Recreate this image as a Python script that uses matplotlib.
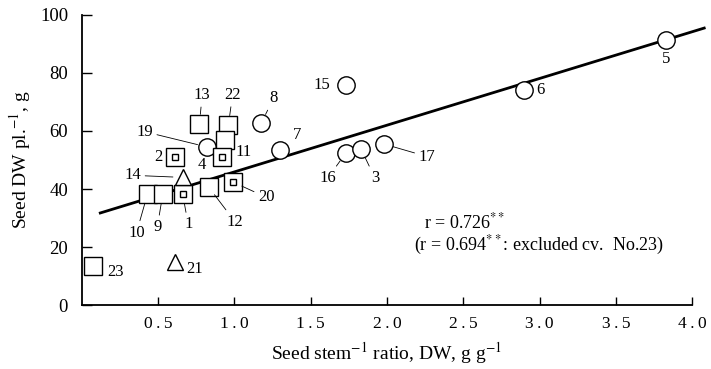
import matplotlib
matplotlib.use("Agg")
import matplotlib.pyplot as plt

plt.rcParams['font.family'] = ['Liberation Serif', 'DejaVu Serif']
plt.rcParams['mathtext.fontset'] = 'stix'

# cultivar data: seed/stem ratio (x) and seed DW per plant (y)
circle_cv = ['5', '6', '15', '7', '16', '3', '17', '8', '19']
circle_x = [3.83, 2.90, 1.73, 1.30, 1.73, 1.83, 1.98, 1.175, 0.82]
circle_y = [91.4, 74.1, 75.9, 53.4, 52.4, 53.8, 55.5, 62.7, 54.5]

square_cv = ['13', '22', '11', '10', '9', '12', '23']
square_x = [0.77, 0.96, 0.94, 0.43, 0.53, 0.83, 0.075]
square_y = [62.4, 62.0, 56.9, 38.3, 38.3, 40.7, 13.4]

boxed_cv = ['4', '2', '1', '20']
boxed_x = [0.915, 0.61, 0.66, 0.99]
boxed_y = [51.0, 51.0, 38.3, 42.4]

tri_cv = ['14', '21']
tri_x = [0.66, 0.61]
tri_y = [44.0, 14.8]

# regression line
intercept = 29.8
slope = 16.1
line_x = [0.12, 4.08]

xticks = [0.5, 1.0, 1.5, 2.0, 2.5, 3.0, 3.5, 4.0]
yticks = [0, 20, 40, 60, 80, 100]

# label offsets in points (dx, dy) and whether a leader line is drawn
label_pos = {
    '5': (0, -14, False), '6': (12, 0, False), '15': (-17, 0, False),
    '7': (12, 11, False), '8': (9, 18, True), '19': (-45, 11, True),
    '16': (-13, -18, True), '3': (10, -21, True), '17': (31, -9, True),
    '13': (2, 21, True), '22': (3, 22, True), '11': (13, -9, False),
    '4': (-14, -6, False), '2': (-12, 0, False), '14': (-36, 1.5, True),
    '1': (4, -22, True), '10': (-8, -28, True), '9': (-4, -24, True),
    '12': (19, -25, True), '20': (24, -11, True), '23': (16, -4, False),
    '21': (14, -5, False),
}

fig = plt.figure(figsize=(7.11, 3.69), dpi=100)
ax = fig.add_axes([0.1153, 0.1734, 0.858, 0.786])

lx = line_x
ly = [intercept + slope * v for v in lx]
ax.plot(lx, ly, color='black', lw=2.0, zorder=2, clip_on=False)

mk = dict(linestyle='none', markerfacecolor='white', markeredgecolor='black',
          markeredgewidth=1.0, zorder=3, clip_on=False)
ax.plot(circle_x, circle_y, marker='o', markersize=12.5, **mk)
ax.plot(square_x, square_y, marker='s', markersize=13, **mk)
ax.plot(boxed_x, boxed_y, marker='s', markersize=13, **mk)
ax.plot(boxed_x, boxed_y, marker='s', markersize=5, **mk)
ax.plot(tri_x, tri_y, marker='^', markersize=11, **mk)

for cvs, xs, ys in [(circle_cv, circle_x, circle_y), (square_cv, square_x, square_y),
                    (boxed_cv, boxed_x, boxed_y), (tri_cv, tri_x, tri_y)]:
    for cv, xv, yv in zip(cvs, xs, ys):
        dx, dy, leader = label_pos[cv]
        props = None
        if leader:
            props = dict(arrowstyle='-', lw=0.6, color='black',
                         shrinkA=1, shrinkB=7)
        ax.annotate(cv, (xv, yv), xytext=(dx, dy), textcoords='offset points',
                    ha='center', va='center', fontsize=12, arrowprops=props,
                    zorder=4)

ax.text(2.24, 28.6, 'r = 0.726$^{**}$', fontsize=13, ha='left', va='center')
ax.text(2.18, 20.6, '(r = 0.694$^{**}$: excluded cv.  No.23)', fontsize=13,
        ha='left', va='center')

ax.set_xlim(0, 4.0)
ax.set_ylim(0, 100)
ax.set_xticks(xticks)
ax.set_xticklabels(['\u2009'.join(f'{t:.1f}') for t in xticks], fontsize=12.5)
ax.set_yticks(yticks)
ax.set_yticklabels([str(t) for t in yticks], fontsize=13.5)
ax.tick_params(axis='x', direction='in', length=6, width=1, pad=8)
ax.tick_params(axis='y', direction='in', length=7, width=1, pad=10)
ax.spines['top'].set_visible(False)
ax.spines['right'].set_visible(False)
ax.spines['left'].set_linewidth(1.3)
ax.spines['bottom'].set_linewidth(1.3)

ax.set_xlabel('Seed stem$^{-1}$ ratio, DW, g g$^{-1}$', fontsize=14, labelpad=6)
ax.set_ylabel('Seed DW pl.$^{-1}$, g', fontsize=14, labelpad=5)

fig.savefig('out.png', dpi=100)
